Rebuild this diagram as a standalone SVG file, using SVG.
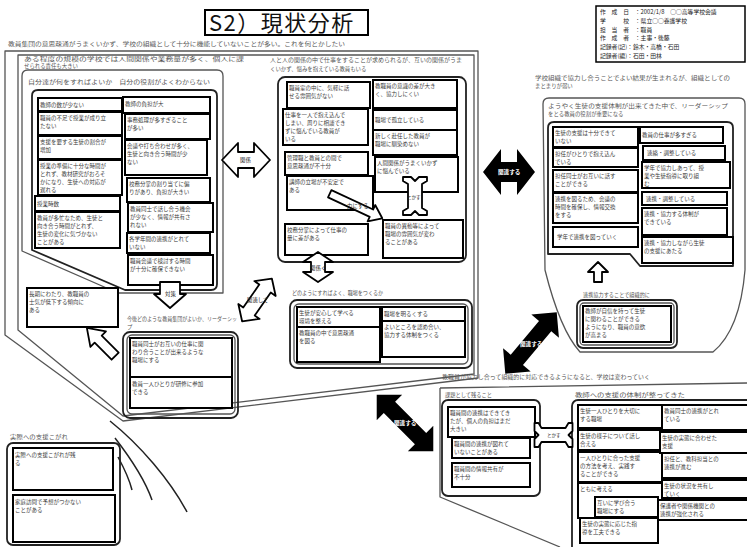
<svg xmlns="http://www.w3.org/2000/svg" width="747" height="547" viewBox="0 0 747 547">
<style>
.box{fill:#fff;stroke:#000;stroke-width:2}
.fr{fill:none;stroke:#555;stroke-width:1.3;stroke-linejoin:round}
.frd{fill:none;stroke:#222;stroke-width:1.8;stroke-linejoin:round}
text{font-family:"Noto Sans CJK JP","Noto Sans",sans-serif;font-size:5.5px;fill:#3a3a3a}
.h{font-size:5.4px;fill:#555}
.lbl{font-size:5.4px;fill:#222}
.wl{font-size:5.6px;fill:#fff;font-weight:bold}
.wa{fill:#fff;stroke:#000;stroke-width:1.8;stroke-linejoin:round}
.ba{fill:#000}
.cv{fill:none;stroke:#222;stroke-width:1.5}
</style>
<rect width="747" height="547" fill="#fff"/>

<g id="title">
<rect x="205" y="10" width="163" height="25" fill="#fff" stroke="#000" stroke-width="2"/>
<text x="209" y="31" style="font-size:22px;fill:#111;letter-spacing:1.5px">S2）現状分析</text>
</g>

<g id="info">
<rect x="596" y="6" width="149" height="56" fill="#fff" stroke="#000" stroke-width="1.5"/>
<text x="600" y="14" style="font-size:5.8px;fill:#222"><tspan x="600">作　成　日　：2002/1/8　○○高等学校会議</tspan><tspan x="600" dy="8.8">学　　　校　：県立○○養護学校</tspan><tspan x="600" dy="8.8">担　当　者　：職員</tspan><tspan x="600" dy="8.8">作　成　者　：主事・後藤</tspan><tspan x="600" dy="8.8">記録者(記)：鈴木・高橋・石田</tspan><tspan x="600" dy="8.8">記録者(編)：石田・田林</tspan></text>
</g>

<g id="frames">
<path class="fr" d="M5,51 H478 V378 L123,421 L5,335 Z"/>
<path class="fr" d="M18,55 H474 V374 L123,416 L18,330 Z"/>
<path class="fr" d="M22,76 Q22,70 28,70 H217 Q223,70 223,76 V293 H118 L22,251 Z"/>
<path class="frd" d="M32,96 Q32,90 38,90 H211 Q217,90 217,96 V284 Q217,290 211,290 H125 L32,250 Z"/>
<rect class="frd" x="278" y="77" width="188" height="185" rx="7"/>
<rect class="frd" x="290" y="300" width="182" height="68" rx="7"/>
<rect class="fr" x="294" y="304" width="174" height="60" rx="5"/>
<rect class="frd" x="123" y="332" width="115" height="86" rx="7"/>
<rect class="fr" x="127" y="335" width="108" height="79" rx="5"/>
<path class="fr" d="M543,104 Q543,98 549,98 H739 Q745,98 745,104 V270 Q740,330 713,352 H580 Q560,330 545,270 Z"/>
<path class="frd" d="M548,128 Q548,122 554,122 H727 Q733,122 733,128 V266 H640 L630,254 H548 Z"/>
<rect class="frd" x="577" y="300" width="100" height="48" rx="6"/>
<rect class="fr" x="580" y="303" width="94" height="42" rx="4"/>
<path class="fr" d="M440,388 L747,383 M440,388 V497 L560,547"/>
<rect class="frd" x="442" y="400" width="98" height="96" rx="6"/>
<rect class="frd" x="572" y="400" width="190" height="160" rx="6"/>
<rect class="frd" x="7" y="443" width="113" height="102" rx="6"/>
<path class="cv" d="M110,421 C140,445 170,480 187,512"/>
<path class="cv" d="M115,438 C132,460 145,480 152,500"/>
<path class="cv" d="M118,457 C124,468 129,478 132,490"/>
</g>

<g id="headers">
<text class="h" x="8" y="46" textLength="337" lengthAdjust="spacingAndGlyphs">教員集団の意思疎通がうまくいかず、学校の組織として十分に機能していないことが多い。これを何とかしたい</text>
<text class="h" x="24" y="61" textLength="220" lengthAdjust="spacingAndGlyphs">ある程度の規模の学校では人間関係や業務量が多く、個人に課</text>
<text class="h" x="24" y="68">せられる責任も大きい</text>
<text class="h" x="28" y="84" textLength="182" lengthAdjust="spacingAndGlyphs">自分達が何をすればよいか　自分の役割がよくわからない</text>
<text class="h" x="270" y="62" textLength="192" lengthAdjust="spacingAndGlyphs">人と人の関係の中で仕事をすることが求められるが、互いの関係がうま</text>
<text class="h" x="270" y="71">くいかず、悩みを抱えている教員もいる</text>
<text class="h" x="535" y="80" textLength="195" lengthAdjust="spacingAndGlyphs">学校組織で協力し合うことでよい結果が生まれるが、組織としての</text>
<text class="h" x="535" y="88">まとまりが弱い</text>
<text class="h" x="548" y="108" textLength="180" lengthAdjust="spacingAndGlyphs">ようやく生徒の支援体制が出来てきた中で、リーダーシップ</text>
<text class="h" x="548" y="116">をとる教員の役割が重要になる</text>
<text class="h" x="292" y="295" textLength="91" lengthAdjust="spacingAndGlyphs">どのようにすればよく、職場をつくるか</text>
<text class="h" x="127" y="321" textLength="110" lengthAdjust="spacingAndGlyphs">今後どのような教員集団がよいか、リーダーシッ</text>
<text class="h" x="127" y="329">プ</text>
<text class="h" x="583" y="297" textLength="67" lengthAdjust="spacingAndGlyphs">連携協力することで組織的に</text>
<text class="h" x="442" y="379" textLength="208" lengthAdjust="spacingAndGlyphs">教職員が協力し合って組織的に対応できるようになると、学校は変わっていく</text>
<text class="h" x="445" y="397" textLength="47" lengthAdjust="spacingAndGlyphs">課題として残ること</text>
<text class="h" x="575" y="397" textLength="110" lengthAdjust="spacingAndGlyphs">教師への支援の体制が整ってきた</text>
<text class="h" x="10" y="439" textLength="58" lengthAdjust="spacingAndGlyphs">実際への支援こがれ</text>
</g>

<g id="n-l1"><rect class="box" x="38" y="98" width="84" height="13"/><text x="40" y="107">教師の数が少ない</text></g>
<g id="n-l2"><rect class="box" x="38" y="112" width="84" height="23"/><text x="40" y="120"><tspan x="40">職員の不足で授業が成り立</tspan><tspan x="40" dy="8">たない</tspan></text></g>
<g id="n-l3"><rect class="box" x="38" y="136" width="84" height="23"/><text x="40" y="144"><tspan x="40">支援を要する生徒の割合が</tspan><tspan x="40" dy="8">増加</tspan></text></g>
<g id="n-l4"><rect class="box" x="38" y="160" width="84" height="35"/><text x="40" y="168"><tspan x="40">授業の準備に十分な時間が</tspan><tspan x="40" dy="8">とれず、教材研究がおろそ</tspan><tspan x="40" dy="8">かになり、生徒への対応が</tspan><tspan x="40" dy="8">遅れる</tspan></text></g>
<g id="n-l5"><rect class="box" x="35" y="196" width="85" height="15"/><text x="37" y="206">授業時数</text></g>
<g id="n-l6"><rect class="box" x="35" y="212" width="85" height="36"/><text x="37" y="220"><tspan x="37">教員が多忙なため、生徒と</tspan><tspan x="37" dy="8">向き合う時間がとれず、</tspan><tspan x="37" dy="8">生徒の変化に気づかない</tspan><tspan x="37" dy="8">ことがある</tspan></text></g>

<g id="n-r1"><rect class="box" x="123" y="97" width="87" height="16"/><text x="125" y="106">教師の負担が大</text></g>
<g id="n-r2"><rect class="box" x="125" y="114" width="85" height="25"/><text x="127" y="122"><tspan x="127">事務処理が多すぎること</tspan><tspan x="127" dy="8">が多い</tspan></text></g>
<g id="n-r3"><rect class="box" x="125" y="140" width="82" height="35"/><text x="127" y="148"><tspan x="127">会議や打ち合わせが多く、</tspan><tspan x="127" dy="8">生徒と向き合う時間が少</tspan><tspan x="127" dy="8">ない</tspan></text></g>
<g id="n-r4"><rect class="box" x="127" y="178" width="83" height="24"/><text x="129" y="186"><tspan x="129">校務分掌の割り当てに偏</tspan><tspan x="129" dy="8">りがあり、負担が大きい</tspan></text></g>
<g id="n-r5"><rect class="box" x="128" y="203" width="85" height="29"/><text x="130" y="211"><tspan x="130">教員同士で話し合う機会</tspan><tspan x="130" dy="8">が少なく、情報が共有さ</tspan><tspan x="130" dy="8">れない</tspan></text></g>
<g id="n-r6"><rect class="box" x="127" y="233" width="83" height="20"/><text x="129" y="241"><tspan x="129">各学年間の連携がとれて</tspan><tspan x="129" dy="8">いない</tspan></text></g>
<g id="n-r7"><rect class="box" x="128" y="255" width="85" height="30"/><text x="130" y="263"><tspan x="130">職員会議で検討する時間</tspan><tspan x="130" dy="8">が十分に確保できない</tspan></text></g>

<g id="n-m1"><rect class="box" x="287" y="82" width="83" height="26"/><text x="289" y="90"><tspan x="289">職員室の中に、気軽に話</tspan><tspan x="289" dy="8">せる雰囲気がない</tspan></text></g>
<g id="n-m2"><rect class="box" x="283" y="109" width="85" height="36"/><text x="285" y="117"><tspan x="285">仕事を一人で抱え込んで</tspan><tspan x="285" dy="8">しまい、周りに相談でき</tspan><tspan x="285" dy="8">ずに悩んでいる教員が</tspan><tspan x="285" dy="8">いる</tspan></text></g>
<g id="n-m3"><rect class="box" x="285" y="152" width="83" height="23"/><text x="287" y="160"><tspan x="287">管理職と教員との間で</tspan><tspan x="287" dy="8">意思疎通が不十分</tspan></text></g>
<g id="n-m4"><rect class="box" x="287" y="176" width="86" height="34"/><text x="289" y="184"><tspan x="289">講師の立場が不安定で</tspan><tspan x="289" dy="8">ある</tspan></text></g>
<g id="n-m5"><rect class="box" x="285" y="224" width="83" height="31"/><text x="287" y="232"><tspan x="287">校務分掌によって仕事の</tspan><tspan x="287" dy="8">量に差がある</tspan></text></g>
<g id="n-n1"><rect class="box" x="373" y="80" width="84" height="28"/><text x="375" y="88"><tspan x="375">教職員の意識の差が大き</tspan><tspan x="375" dy="8">く、協力しにくい</tspan></text></g>
<g id="n-n2"><rect class="box" x="373" y="110" width="84" height="20"/><text x="375" y="122">職場で孤立している</text></g>
<g id="n-n3"><rect class="box" x="373" y="130" width="84" height="25"/><text x="375" y="138"><tspan x="375">新しく赴任した教員が</tspan><tspan x="375" dy="8">職場に馴染めない</tspan></text></g>
<g id="n-n4"><rect class="box" x="375" y="157" width="83" height="35"/><text x="377" y="165"><tspan x="377">人間関係がうまくいかず</tspan><tspan x="377" dy="8">に悩んでいる</tspan></text></g>
<g id="n-n5"><rect class="box" x="383" y="220" width="80" height="38"/><text x="385" y="228"><tspan x="385">職員の異動等によって</tspan><tspan x="385" dy="8">職場の雰囲気が変わ</tspan><tspan x="385" dy="8">ることがある</tspan></text></g>

<g id="n-s1"><rect class="box" x="297" y="307" width="83" height="20"/><text x="299" y="315"><tspan x="299">生徒が安心して学べる</tspan><tspan x="299" dy="8">環境を整える</tspan></text></g>
<g id="n-s2"><rect class="box" x="297" y="327" width="83" height="35"/><text x="299" y="335"><tspan x="299">教職員の中で意思疎通</tspan><tspan x="299" dy="8">を図る</tspan></text></g>
<g id="n-s3"><rect class="box" x="382" y="307" width="83" height="14"/><text x="384" y="316">職場を明るくする</text></g>
<g id="n-s4"><rect class="box" x="382" y="321" width="83" height="36"/><text x="384" y="329"><tspan x="384">よいところを認め合い、</tspan><tspan x="384" dy="8">協力する体制をつくる</tspan></text></g>

<g id="n-lb1"><rect class="box" x="27" y="288" width="91" height="39"/><text x="29" y="296"><tspan x="29">長期にわたり、教職員の</tspan><tspan x="29" dy="8">士気が低下する傾向に</tspan><tspan x="29" dy="8">ある</tspan></text></g>
<g id="n-c1"><rect class="box" x="130" y="338" width="102" height="39"/><text x="132" y="346"><tspan x="132">職員同士がお互いの仕事に関</tspan><tspan x="132" dy="8">わり合うことが出来るような</tspan><tspan x="132" dy="8">職場にする</tspan></text></g>
<g id="n-c2"><rect class="box" x="130" y="377" width="102" height="31"/><text x="132" y="386"><tspan x="132">教員一人ひとりが研修に参加</tspan><tspan x="132" dy="8">できる</tspan></text></g>

<g id="n-p1"><rect class="box" x="553" y="127" width="85" height="20"/><text x="555" y="135"><tspan x="555">生徒の支援は十分できて</tspan><tspan x="555" dy="8">いない</tspan></text></g>
<g id="n-p2"><rect class="box" x="553" y="148" width="85" height="19"/><text x="555" y="156"><tspan x="555">担任がひとりで抱え込ん</tspan><tspan x="555" dy="8">でいる</tspan></text></g>
<g id="n-p3"><rect class="box" x="553" y="170" width="85" height="22"/><text x="555" y="178"><tspan x="555">担任同士がお互いに話す</tspan><tspan x="555" dy="8">ことができる</tspan></text></g>
<g id="n-p4"><rect class="box" x="553" y="193" width="85" height="30"/><text x="555" y="201"><tspan x="555">連携を図るため、会議の</tspan><tspan x="555" dy="8">時間を確保し、情報交換</tspan><tspan x="555" dy="8">をする</tspan></text></g>
<g id="n-p5"><rect class="box" x="553" y="227" width="85" height="20"/><text x="557" y="239">学年で連携を図っていく</text></g>
<g id="n-q1"><rect class="box" x="640" y="127" width="83" height="16"/><text x="642" y="137">教員の仕事が多すぎる</text></g>
<g id="n-q2"><rect class="box" x="643" y="146" width="82" height="14"/><text x="647" y="155">連絡・調整している</text></g>
<g id="n-q3"><rect class="box" x="642" y="162" width="88" height="26"/><text x="644" y="170"><tspan x="644">学年で協力しあって、授</tspan><tspan x="644" dy="8">業や生徒指導に取り組</tspan><tspan x="644" dy="8">む</tspan></text></g>
<g id="n-q4"><rect class="box" x="642" y="192" width="85" height="13"/><text x="646" y="201">連携・調整している</text></g>
<g id="n-q5"><rect class="box" x="642" y="208" width="85" height="27"/><text x="644" y="216"><tspan x="644">連携・協力する体制が</tspan><tspan x="644" dy="8">できている</tspan></text></g>
<g id="n-q6"><rect class="box" x="642" y="237" width="91" height="26"/><text x="644" y="245"><tspan x="644">連携・協力しながら生徒</tspan><tspan x="644" dy="8">の支援にあたる</tspan></text></g>
<g id="n-p6"><rect class="box" x="583" y="306" width="88" height="36"/><text x="585" y="313"><tspan x="585">教師が自信を持って生徒</tspan><tspan x="585" dy="8">に関わることができる</tspan><tspan x="585" dy="8">ようになり、職員の意欲</tspan><tspan x="585" dy="8">が高まる</tspan></text></g>

<g id="n-k1"><rect class="box" x="448" y="407" width="87" height="30"/><text x="450" y="415"><tspan x="450">職員間の連携はできてき</tspan><tspan x="450" dy="8">たが、個人の負担はまだ</tspan><tspan x="450" dy="8">大きい</tspan></text></g>
<g id="n-k2"><rect class="box" x="452" y="438" width="78" height="20"/><text x="454" y="446"><tspan x="454">職員間の連携が図れて</tspan><tspan x="454" dy="8">いないことがある</tspan></text></g>
<g id="n-k3"><rect class="box" x="452" y="463" width="78" height="24"/><text x="454" y="471"><tspan x="454">職員間の情報共有が</tspan><tspan x="454" dy="8">不十分</tspan></text></g>

<g id="n-e1"><rect class="box" x="578" y="405" width="84" height="23"/><text x="580" y="413"><tspan x="580">生徒一人ひとりを大切に</tspan><tspan x="580" dy="8">する職場</tspan></text></g>
<g id="n-e2"><rect class="box" x="578" y="430" width="84" height="20"/><text x="580" y="438"><tspan x="580">生徒の様子について話し</tspan><tspan x="580" dy="8">合える</tspan></text></g>
<g id="n-e3"><rect class="box" x="578" y="452" width="84" height="30"/><text x="580" y="460"><tspan x="580">一人ひとりに合った支援</tspan><tspan x="580" dy="8">の方法を考え、実践す</tspan><tspan x="580" dy="8">ることができる</tspan></text></g>
<g id="n-e4"><rect class="box" x="578" y="483" width="84" height="35"/><text x="580" y="491">ともに考える</text><rect class="box" x="595" y="497" width="63" height="20"/><text x="597" y="505"><tspan x="597">互いに学び合う</tspan><tspan x="597" dy="8">職場にする</tspan></text></g>
<g id="n-e5"><rect class="box" x="580" y="518" width="78" height="25"/><text x="582" y="526"><tspan x="582">生徒の実態に応じた指</tspan><tspan x="582" dy="8">導を工夫できる</tspan></text></g>
<g id="n-f1"><rect class="box" x="662" y="405" width="90" height="25"/><text x="664" y="413"><tspan x="664">教員同士の連携がとれ</tspan><tspan x="664" dy="8">ている</tspan></text></g>
<g id="n-f2"><rect class="box" x="660" y="432" width="92" height="21"/><text x="662" y="440"><tspan x="662">生徒の実態に合わせた</tspan><tspan x="662" dy="8">支援</tspan></text></g>
<g id="n-f3"><rect class="box" x="662" y="453" width="90" height="25"/><text x="664" y="461"><tspan x="664">担任と、教科担当との</tspan><tspan x="664" dy="8">連携が進む</tspan></text></g>
<g id="n-f4"><rect class="box" x="662" y="480" width="90" height="18"/><text x="664" y="488"><tspan x="664">生徒の状況を共有し</tspan><tspan x="664" dy="8">ていく</tspan></text></g>
<g id="n-f5"><rect class="box" x="658" y="500" width="94" height="20"/><text x="660" y="508"><tspan x="660">保護者や関係機関との</tspan><tspan x="660" dy="8">連携が強化される</tspan></text></g>

<g id="n-bl1"><rect class="box" x="13" y="448" width="100" height="42"/><text x="15" y="457"><tspan x="15">実際への支援こがれが残</tspan><tspan x="15" dy="8">る</tspan></text></g>
<g id="n-bl2"><rect class="box" x="13" y="495" width="102" height="47"/><text x="15" y="504"><tspan x="15">家庭訪問で予想がつかない</tspan><tspan x="15" dy="8">ことがある</tspan></text></g>

<g id="connectors">
<path class="wa" d="M222,160 L238,143 V152 H254 V143 L270,160 L254,177 V168 H238 V177 Z"/>
<text class="lbl" x="240" y="162">関係</text>
<path class="ba" d="M483,172 L501,149 V162 H517 V149 L535,172 L517,195 V182 H501 V195 Z"/>
<text class="wl" x="498" y="174">関連する</text>
<path class="wa" d="M160,282 H180 V294 H186 L170,308 L154,294 H160 Z"/>
<text class="lbl" x="165" y="296">対策</text>
<path class="wa" d="M318,252 L333,262 H325 V272 H333 L318,282 L303,272 H311 V262 H303 Z"/>
<text class="lbl" x="310" y="270">関係く</text>
<path class="wa" d="M598,262 L608,272 H602 V282 H594 V272 H588 Z"/>
<path class="wa" transform="translate(101,342) rotate(-135)" d="M-20,-5 H4 V-11 L20,0 L4,11 V5 H-20 Z"/>
<path class="wa" transform="translate(257,300) rotate(-55)" d="M-26,0 L-14,-13 V-7 H14 V-13 L26,0 L14,13 V7 H-14 V13 Z"/>
<text class="lbl" x="247" y="302">関連して</text>
<path class="wa" transform="translate(356,206) rotate(25)" d="M-29,-4 H17 V-9 L29,0 L17,9 V4 H-29 Z"/>
<text class="lbl" x="347" y="208">力にする</text>
<path class="ba" transform="translate(531,343) rotate(-50)" d="M-40,0 L-22,-18 V-8 H22 V-18 L40,0 L22,18 V8 H-22 V18 Z"/>
<text class="wl" x="520" y="346">関連する</text>
<path class="ba" transform="translate(405,423) rotate(45)" d="M-40,0 L-22,-18 V-8 H22 V-18 L40,0 L22,18 V8 H-22 V18 Z"/>
<text class="wl" x="394" y="425">関連する</text>
<path class="wa" d="M403,177 h8 l4,4 l4,-4 h8 v4 l-5,3 v24 l5,3 v4 h-8 l-4,-4 l-4,4 h-8 v-4 l5,-3 v-24 l-5,-3 z"/>
<text class="lbl" x="407" y="199" style="font-size:4.5px">とかす</text>
<path class="wa" transform="translate(553.5,435) rotate(90) translate(-415,-196)" d="M403,177 h8 l4,4 l4,-4 h8 v4 l-5,3 v24 l5,3 v4 h-8 l-4,-4 l-4,4 h-8 v-4 l5,-3 v-24 l-5,-3 z"/>
<text class="lbl" x="547" y="437" style="font-size:4.5px">とかす</text>
</g>
</svg>
